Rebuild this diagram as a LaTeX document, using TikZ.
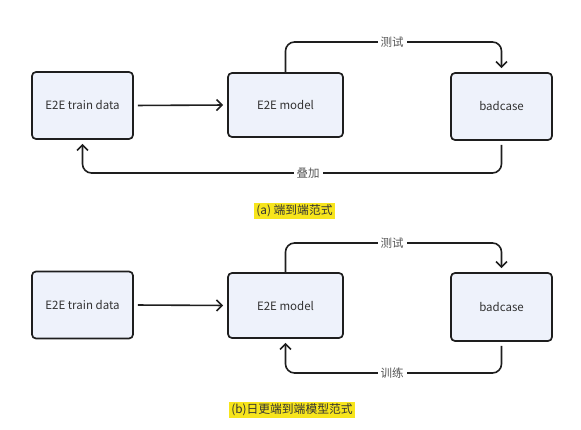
\documentclass[tikz,border=0pt]{standalone}
\usepackage{fontspec}
\setmainfont{Noto Sans CJK SC}
\usetikzlibrary{arrows.meta,calc}
\definecolor{boxfill}{HTML}{EEF2FB}
\definecolor{boxline}{HTML}{1E1E1E}
\definecolor{txt}{HTML}{333333}
\definecolor{lbltxt}{HTML}{555555}
\definecolor{hl}{HTML}{F7E51C}
\tikzset{
  box/.style={draw=boxline, fill=boxfill, line width=1.7pt, rounded corners=4pt,
    inner sep=0pt, text=txt, font=\fontsize{11.5}{13}\selectfont},
  arr/.style={draw=boxline, line width=1.6pt, rounded corners=9pt,
    -{Straight Barb[length=5.5pt,width=11pt,line width=1.6pt]}, shorten >=4pt},
  lbl/.style={fill=white, text=lbltxt, inner sep=3pt, font=\fontsize{11.5}{13}\selectfont},
  captionbox/.style={fill=hl, text=txt, inner sep=2pt, font=\fontsize{11.8}{13}\selectfont},
}
\begin{document}
\begin{tikzpicture}[x=1pt,y=-1pt]
\useasboundingbox (0,0) rectangle (581,430);
% (a)
\node[box, minimum width=101pt, minimum height=67pt] (t1) at (82.5,105.5) {E2E train data};
\node[box, minimum width=115pt, minimum height=64pt] (m1) at (285.5,105) {E2E model};
\node[box, minimum width=101pt, minimum height=67pt] (b1) at (501.5,106.5) {badcase};
\coordinate (a1) at (285.5,42);
\coordinate (a2) at (501.5,173);
\draw[arr, shorten <=4pt] (t1.east) -- (m1.west);
\draw[arr] (m1.north) -- (a1) -| (b1.north);
\draw[arr, shorten <=4pt] (b1.south) -- (a2) -| (t1.south);
\node[lbl] (l1) at (392,42) {测试};
\node[lbl] (l2) at (308,173) {叠加};
\node[captionbox] (c1) at (294.5,211) {(a) 端到端范式};
% (b)
\node[box, minimum width=101pt, minimum height=67pt] (t2) at (82.5,305) {E2E train data};
\node[box, minimum width=115pt, minimum height=65pt] (m2) at (285.5,305.5) {E2E model};
\node[box, minimum width=101pt, minimum height=68pt] (b2) at (501.5,307) {badcase};
\coordinate (a3) at (285.5,243);
\coordinate (a4) at (501.5,373);
\draw[arr, shorten <=4pt] (t2.east) -- (m2.west);
\draw[arr] (m2.north) -- (a3) -| (b2.north);
\draw[arr, shorten <=4pt] (b2.south) -- (a4) -| (m2.south);
\node[lbl] (l3) at (392,243) {测试};
\node[lbl] (l4) at (392,373) {训练};
\node[captionbox] (c2) at (292,410) {(b)日更端到端模型范式};
\end{tikzpicture}
\end{document}
